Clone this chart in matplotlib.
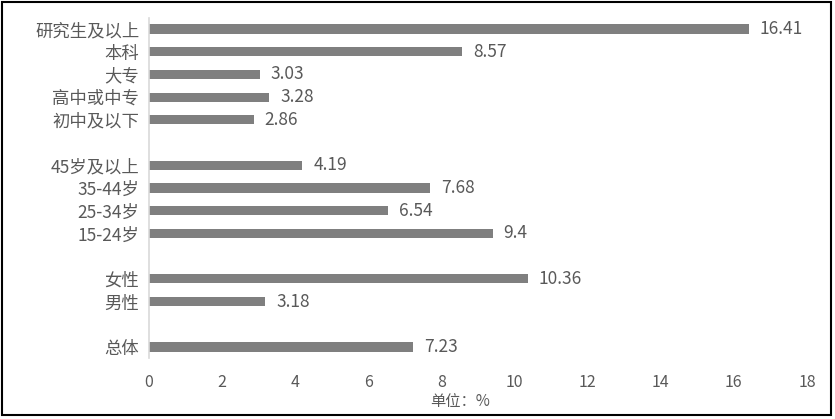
import matplotlib
matplotlib.use("Agg")
import matplotlib.pyplot as plt
from matplotlib.patches import Rectangle

plt.rcParams['font.family'] = ['Noto Sans CJK SC', 'DejaVu Sans']

# Data (top to bottom), groups separated by gaps
edu_labels = ["研究生及以上", "本科", "大专", "高中或中专", "初中及以下"]
edu_values = [16.41, 8.57, 3.03, 3.28, 2.86]
age_labels = ["45岁及以上", "35-44岁", "25-34岁", "15-24岁"]
age_values = [4.19, 7.68, 6.54, 9.4]
sex_labels = ["女性", "男性"]
sex_values = [10.36, 3.18]
total_labels = ["总体"]
total_values = [7.23]
value_texts = ["16.41", "8.57", "3.03", "3.28", "2.86",
               "4.19", "7.68", "6.54", "9.4",
               "10.36", "3.18", "7.23"]
xticks = [0, 2, 4, 6, 8, 10, 12, 14, 16, 18]

groups = [(edu_labels, edu_values), (age_labels, age_values),
          (sex_labels, sex_values), (total_labels, total_values)]

fig = plt.figure(figsize=(8.35, 4.19), dpi=100)
ax = fig.add_axes([149/835, 1-358.4/419, (807-149)/835, (358.4-17.6)/419])

txtc = '#595959'
ypos, labels, values = [], [], []
slot = 0
for gi, (labs, vals) in enumerate(groups):
    for l, v in zip(labs, vals):
        ypos.append(slot); labels.append(l); values.append(v)
        slot += 1
    slot += 1  # gap

ax.barh(ypos, values, height=0.4, color='#7f7f7f')
for y, v, t in zip(ypos, values, value_texts):
    ax.annotate(t, (v, y), xytext=(8, 0), textcoords='offset points',
                va='center', ha='left', fontsize=12.5, color=txtc)

ax.set_ylim(slot - 1.5, -0.5)
ax.set_xlim(0, 18)
ax.set_xticks(xticks)
ax.set_yticks(ypos)
ax.set_yticklabels(labels)
ax.tick_params(axis='both', length=0, colors=txtc, labelsize=11.5)
ax.tick_params(axis='y', pad=7, labelsize=12.5)
ax.tick_params(axis='x', pad=11)
for s in ['top', 'right', 'bottom']:
    ax.spines[s].set_visible(False)
ax.spines['left'].set_color('#d9d9d9')
ax.spines['left'].set_linewidth(1.2)

fig.text(460/835, 1-401/419, "单位：%", ha='center', va='center', fontsize=11, color=txtc)

fig.patches.append(Rectangle((2/835, 1-415/419), 829/835, 413/419, transform=fig.transFigure,
                             fill=False, edgecolor='black', linewidth=1.5))

fig.savefig("out.png", dpi=100)
